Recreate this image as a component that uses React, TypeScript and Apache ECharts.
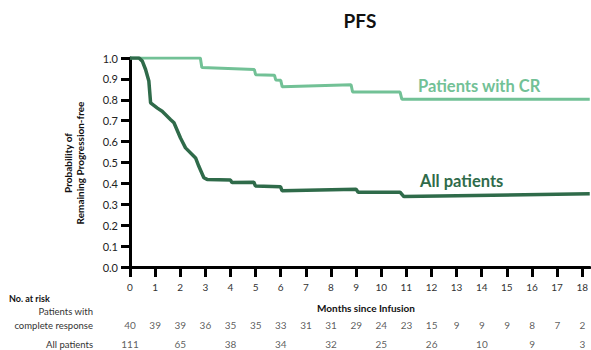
import React, { useEffect, useRef } from "react";
import * as echarts from "echarts";

// Kaplan–Meier style progression-free curves: [month, probability]
const crCurve: [number, number][] = [
  [0, 1], [2.8, 1], [2.86, 0.955], [4.95, 0.945], [5.0, 0.92], [5.75, 0.918],
  [5.8, 0.895], [6.0, 0.893], [6.06, 0.862], [8.8, 0.872], [8.86, 0.837],
  [10.75, 0.837], [10.82, 0.803], [18.3, 0.803],
];

const allCurve: [number, number][] = [
  [0, 1], [0.36, 1], [0.49, 0.985], [0.62, 0.945], [0.75, 0.89], [0.82, 0.785],
  [1.09, 0.76], [1.28, 0.745], [1.62, 0.705], [1.75, 0.69], [2.01, 0.617],
  [2.21, 0.57], [2.61, 0.522], [2.74, 0.482], [2.94, 0.427], [3.07, 0.419],
  [4.0, 0.416], [4.06, 0.404], [4.93, 0.406], [4.99, 0.388], [5.99, 0.384],
  [6.05, 0.365], [9.0, 0.372], [9.08, 0.358], [10.75, 0.358], [10.9, 0.337],
  [18.3, 0.35],
];

const monthTicks = [0, 1, 2, 3, 4, 5, 6, 7, 8, 9, 10, 11, 12, 13, 14, 15, 16, 17, 18];

// Number at risk tables
const crRiskMonths = [0, 1, 2, 3, 4, 5, 6, 7, 8, 9, 10, 11, 12, 13, 14, 15, 16, 17, 18];
const crRiskCounts = [40, 39, 39, 36, 35, 35, 33, 31, 31, 29, 24, 23, 15, 9, 9, 9, 8, 7, 2];
const allRiskMonths = [0, 2, 4, 6, 8, 10, 12, 14, 16, 18];
const allRiskCounts = [111, 65, 38, 34, 32, 25, 26, 10, 9, 3];

const CR_COLOR = "#72c196";
const ALL_COLOR = "#2f6b4a";
const FONT = "Lato, 'Open Sans', sans-serif";
const X_MAX = 18.3;

export default function App() {
  const ref = useRef<HTMLDivElement>(null);

  useEffect(() => {
    if (!ref.current) return;
    document.body.style.margin = "0";
    const chart = echarts.init(ref.current, undefined, { renderer: "svg" });

    const riskGrid = (top: number) => ({ left: 130, right: 1, top, height: 10 });
    const hiddenX = (gridIndex: number) => ({
      type: "value" as const, gridIndex, min: 0, max: X_MAX, show: false,
    });
    const hiddenY = (gridIndex: number) => ({
      type: "value" as const, gridIndex, min: 0, max: 1, show: false,
    });
    const riskSeries = (idx: number, months: number[], counts: number[]) => ({
      type: "scatter" as const,
      xAxisIndex: idx,
      yAxisIndex: idx,
      symbolSize: 1,
      clip: false,
      itemStyle: { color: "rgba(0,0,0,0)" },
      silent: true,
      data: months.map((m, i) => [m, 0.5, counts[i]]),
      label: {
        show: true,
        position: "inside" as const,
        formatter: (p: any) => String(p.value[2]),
        fontFamily: FONT,
        fontSize: 10,
        color: "#333",
      },
    });

    chart.setOption({
      animation: false,
      backgroundColor: "#fff",
      textStyle: { fontFamily: FONT },
      title: {
        text: "PFS",
        left: 355,
        top: 6,
        textAlign: "center",
        textStyle: { fontFamily: FONT, fontSize: 19, fontWeight: "bold", color: "#111" },
      },
      grid: [
        { left: 130, right: 1, top: 58, height: 209 },
        riskGrid(320),
        riskGrid(339),
      ],
      xAxis: [
        {
          type: "value",
          gridIndex: 0,
          min: 0,
          max: X_MAX,
          splitLine: { show: false },
          axisLine: { show: true, onZero: false, lineStyle: { color: "#000", width: 3 } },
          axisTick: {
            show: true,
            customValues: monthTicks,
            length: 10,
            lineStyle: { color: "#000", width: 3 },
          },
          axisLabel: {
            customValues: monthTicks,
            margin: 15,
            fontFamily: FONT,
            fontSize: 10,
            color: "#333",
          },
        },
        hiddenX(1),
        hiddenX(2),
      ],
      yAxis: [
        {
          type: "value",
          gridIndex: 0,
          min: 0,
          max: 1,
          interval: 0.1,
          splitLine: { show: false },
          axisLine: { show: true, lineStyle: { color: "#000", width: 3 } },
          axisTick: { show: true, length: 9, lineStyle: { color: "#000", width: 3 } },
          axisLabel: {
            margin: 12,
            formatter: (v: number) => v.toFixed(1),
            fontFamily: FONT,
            fontSize: 11,
            color: "#222",
          },
        },
        hiddenY(1),
        hiddenY(2),
      ],
      series: [
        {
          type: "line",
          name: "Patients with CR",
          data: crCurve,
          showSymbol: false,
          lineStyle: { color: CR_COLOR, width: 3 },
          z: 3,
        },
        {
          type: "line",
          name: "All patients",
          data: allCurve,
          showSymbol: false,
          lineStyle: { color: ALL_COLOR, width: 3.5 },
          z: 4,
        },
        riskSeries(1, crRiskMonths, crRiskCounts),
        riskSeries(2, allRiskMonths, allRiskCounts),
      ],
      graphic: [
        {
          type: "text",
          x: 418,
          y: 86,
          style: {
            text: "Patients with CR",
            fontFamily: FONT,
            fontSize: 16.5,
            fontWeight: "bold",
            fill: CR_COLOR,
            verticalAlign: "middle",
          },
        },
        {
          type: "text",
          x: 420,
          y: 181,
          style: {
            text: "All patients",
            fontFamily: FONT,
            fontSize: 16.5,
            fontWeight: "bold",
            fill: ALL_COLOR,
            verticalAlign: "middle",
          },
        },
        {
          type: "text",
          x: 74,
          y: 163,
          rotation: Math.PI / 2,
          style: {
            text: "Probability of\nRemaining Progression-free",
            fontFamily: FONT,
            fontSize: 10,
            fontWeight: "bold",
            fill: "#111",
            align: "center",
            verticalAlign: "middle",
            lineHeight: 12,
          },
        },
        {
          type: "text",
          x: 9,
          y: 298,
          style: {
            text: "No. at risk",
            fontFamily: FONT,
            fontSize: 9,
            fontWeight: "bold",
            fill: "#111",
            verticalAlign: "middle",
          },
        },
        {
          type: "text",
          x: 366,
          y: 308,
          style: {
            text: "Months since Infusion",
            fontFamily: FONT,
            fontSize: 10,
            fontWeight: "bold",
            fill: "#111",
            align: "center",
            verticalAlign: "middle",
          },
        },
        {
          type: "text",
          x: 93,
          y: 311,
          style: {
            text: "Patients with",
            fontFamily: FONT,
            fontSize: 9.5,
            fill: "#333",
            align: "right",
            verticalAlign: "middle",
          },
        },
        {
          type: "text",
          x: 93,
          y: 325,
          style: {
            text: "complete response",
            fontFamily: FONT,
            fontSize: 9.5,
            fill: "#333",
            align: "right",
            verticalAlign: "middle",
          },
        },
        {
          type: "text",
          x: 93,
          y: 344,
          style: {
            text: "All patients",
            fontFamily: FONT,
            fontSize: 9.5,
            fill: "#333",
            align: "right",
            verticalAlign: "middle",
          },
        },
      ],
    });

    return () => chart.dispose();
  }, []);

  return <div ref={ref} style={{ width: 591, height: 350 }} />;
}
